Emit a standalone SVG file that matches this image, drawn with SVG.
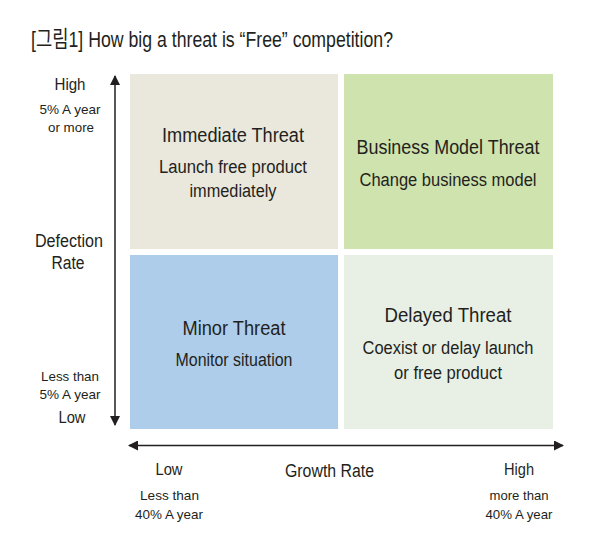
<svg xmlns="http://www.w3.org/2000/svg" width="604" height="541" viewBox="0 0 604 541">
<style>
text{font-family:"Liberation Sans","Noto Sans CJK KR",sans-serif;fill:#231f20;text-anchor:middle}
.t{font-size:19.5px}
.s{font-size:18px}
.a{font-size:16px}
.b{font-size:13.5px}
.ax{stroke:#231f20;stroke-width:1.5;fill:none}
</style>
<defs>
<marker id="ah" viewBox="0 0 10 10" refX="9" refY="5" markerWidth="10" markerHeight="10" markerUnits="userSpaceOnUse" orient="auto-start-reverse">
<path d="M0,0 L10,5 L0,10 Z" fill="#231f20"/>
</marker>
</defs>
<rect width="604" height="541" fill="#fff"/>
<text x="31" y="47" style="font-size:22.5px;text-anchor:start" textLength="362" lengthAdjust="spacingAndGlyphs">[그림1] How big a threat is “Free” competition?</text>
<g id="immediate">
<rect x="130" y="74" width="208" height="175" fill="#eae8dd"/>
<text class="t" x="233" y="142" textLength="142" lengthAdjust="spacingAndGlyphs">Immediate Threat</text>
<text class="s" x="233" y="173" textLength="148" lengthAdjust="spacingAndGlyphs">Launch free product</text>
<text class="s" x="233" y="197" textLength="87" lengthAdjust="spacingAndGlyphs">immediately</text>
</g>
<g id="business">
<rect x="344" y="74" width="209" height="175" fill="#cfe3ae"/>
<text class="t" x="448" y="154" textLength="183" lengthAdjust="spacingAndGlyphs">Business Model Threat</text>
<text class="s" x="448" y="186" textLength="177" lengthAdjust="spacingAndGlyphs">Change business model</text>
</g>
<g id="minor">
<rect x="130" y="255" width="208" height="174" fill="#adcdea"/>
<text class="t" x="234" y="335" textLength="103" lengthAdjust="spacingAndGlyphs">Minor Threat</text>
<text class="s" x="234" y="366" textLength="117" lengthAdjust="spacingAndGlyphs">Monitor situation</text>
</g>
<g id="delayed">
<rect x="344" y="255" width="209" height="174" fill="#e8f0e6"/>
<text class="t" x="448" y="322" textLength="127" lengthAdjust="spacingAndGlyphs">Delayed Threat</text>
<text class="s" x="448" y="354" textLength="171" lengthAdjust="spacingAndGlyphs">Coexist or delay launch</text>
<text class="s" x="448" y="379" textLength="108" lengthAdjust="spacingAndGlyphs">or free product</text>
</g>
<g id="connectors">
<line class="ax" x1="115" y1="76" x2="115" y2="425" marker-start="url(#ah)" marker-end="url(#ah)"/>
<line class="ax" x1="129" y1="445.5" x2="563" y2="445.5" marker-start="url(#ah)" marker-end="url(#ah)"/>
</g>
<g id="y-labels">
<text class="a" x="70" y="90" textLength="31" lengthAdjust="spacingAndGlyphs">High</text>
<text class="b" x="70" y="114" textLength="61" lengthAdjust="spacingAndGlyphs">5% A year</text>
<text class="b" x="71" y="132" textLength="46" lengthAdjust="spacingAndGlyphs">or more</text>
<text class="s" x="69" y="247" textLength="68" lengthAdjust="spacingAndGlyphs">Defection</text>
<text class="s" x="68" y="269" textLength="33" lengthAdjust="spacingAndGlyphs">Rate</text>
<text class="b" x="70" y="381" textLength="58" lengthAdjust="spacingAndGlyphs">Less than</text>
<text class="b" x="70" y="399" textLength="61" lengthAdjust="spacingAndGlyphs">5% A year</text>
<text class="a" x="72" y="423" textLength="27" lengthAdjust="spacingAndGlyphs">Low</text>
</g>
<g id="x-labels">
<text class="a" x="169" y="475" textLength="27" lengthAdjust="spacingAndGlyphs">Low</text>
<text class="s" x="329.5" y="477" textLength="89" lengthAdjust="spacingAndGlyphs">Growth Rate</text>
<text class="a" x="519" y="475" textLength="30" lengthAdjust="spacingAndGlyphs">High</text>
<text class="b" x="169.5" y="500" textLength="59" lengthAdjust="spacingAndGlyphs">Less than</text>
<text class="b" x="169" y="519" textLength="68" lengthAdjust="spacingAndGlyphs">40% A year</text>
<text class="b" x="519" y="500" textLength="59" lengthAdjust="spacingAndGlyphs">more than</text>
<text class="b" x="519" y="519" textLength="67" lengthAdjust="spacingAndGlyphs">40% A year</text>
</g>
</svg>
